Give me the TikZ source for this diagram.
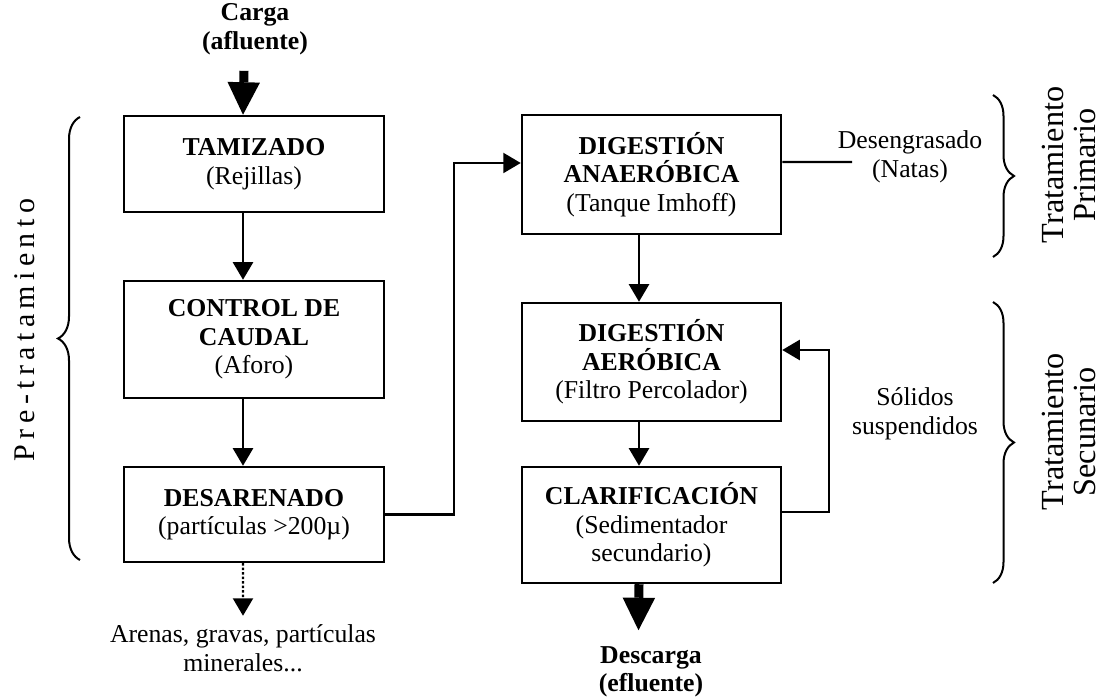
\documentclass[tikz,border=0pt]{standalone}
\usepackage{fontspec}
\setmainfont{Liberation Serif}
\usetikzlibrary{arrows.meta,decorations.pathreplacing}

\begin{document}
\begin{tikzpicture}[x=0.4pt,y=-0.4pt]
  \useasboundingbox (0,0) rectangle (1113,697);

  % Define styles for the boxes, arrows and labels
  \tikzset{
    procbox/.style={draw, line width=1pt, align=center, inner sep=0pt,
      font=\fontsize{10.3}{11.4}\selectfont, minimum width=104pt},
    plaintext/.style={align=center, font=\fontsize{10.3}{11.4}\selectfont},
    sidetext/.style={align=center, rotate=90, font=\fontsize{12.9}{12.8}\selectfont},
    flowline/.style={line width=0.9pt, -{Triangle[length=7pt,width=8pt]}},
    dotflow/.style={flowline, dash pattern=on 1pt off 0.8pt},
    bigarrow/.style={line width=3.6pt, -{Triangle[length=13pt,width=13pt,line width=0pt]}},
    mybrace/.style={decorate, decoration={brace, amplitude=8.4pt}, line width=0.8pt}
  }

  % Pre-tratamiento column
  \node[procbox, minimum height=38.4pt] (tamiz) at (254,164)
    {\textbf{TAMIZADO}\\(Rejillas)};
  \node[procbox, minimum height=46.8pt] (caudal) at (254,339.5)
    {\textbf{CONTROL DE}\\\textbf{CAUDAL}\\(Aforo)};
  \node[procbox, minimum height=38pt] (desar) at (254,514.5)
    {\textbf{DESARENADO}\\(partículas >200µ)};

  % Tratamiento primario y secundario
  \node[procbox, minimum height=47.6pt, minimum width=103.6pt] (anaer) at (651.5,174.5)
    {\textbf{DIGESTIÓN}\\\textbf{ANAERÓBICA}\\(Tanque Imhoff)};
  \node[procbox, minimum height=47.2pt, minimum width=103.6pt] (aerob) at (651.5,362)
    {\textbf{DIGESTIÓN}\\\textbf{AERÓBICA}\\(Filtro Percolador)};
  \node[procbox, minimum height=46.4pt, minimum width=103.6pt] (clarif) at (651.5,525)
    {\textbf{CLARIFICACIÓN}\\(Sedimentador\\secundario)};

  % Entrada, salida y residuos
  \node[plaintext] (carga) at (255,29) {\textbf{Carga}\\\textbf{(afluente)}};
  \node[plaintext] (descarga) at (651,672) {\textbf{Descarga}\\\textbf{(efluente)}};
  \node[plaintext] (residuo) at (243,648) {Arenas, gravas, partículas\\minerales...};
  \node[plaintext] (natas) at (910,157) {Desengrasado\\(Natas)};
  \node[plaintext] (solidos) at (915,414) {Sólidos\\suspendidos};

  % Side labels
  \node[sidetext, font=\fontsize{12}{13}\selectfont\addfontfeatures{LetterSpace=18}] (pretrat) at (25,330)
    {Pre-tratamiento};
  \node[sidetext] (primario) at (1069,165) {Tratamiento\\Primario};
  \node[sidetext] (secundario) at (1069,432) {Tratamiento\\Secunario};

  % Braces
  \draw[mybrace, decoration={amplitude=8.8pt}] (80,560) -- (80,117);
  \draw[mybrace] (993,95) -- (993,257);
  \draw[mybrace] (993,302) -- (993,583);

  % Flow arrows
  \draw[bigarrow] ([xshift=-4.4pt,yshift=-3pt]carga.south) -- ([xshift=-4.4pt]tamiz.north);
  \draw[flowline] ([xshift=-4.4pt]tamiz.south) -- ([xshift=-4.4pt]caudal.north);
  \draw[flowline] ([xshift=-4.4pt]caudal.south) -- ([xshift=-4.4pt]desar.north);
  \draw[dotflow] ([xshift=-4.4pt]desar.south) -- (residuo.north);
  \draw[flowline] (desar.east) -- ++(69,0) |- ([yshift=4.6pt]anaer.west);
  \draw[flowline] ([xshift=-5pt]anaer.south) -- ([xshift=-5pt]aerob.north);
  \draw[flowline] ([xshift=-5pt]aerob.south) -- ([xshift=-5pt]clarif.north);
  \draw[bigarrow] ([xshift=-5pt]clarif.south) -- ([xshift=-5pt,yshift=3pt]descarga.north);

  % Natas and recirculation
  \coordinate (natasfin) at (852,162);
  \draw[line width=0.9pt] ([yshift=5pt]anaer.east) -- (natasfin);
  \draw[flowline] ([yshift=5.2pt]clarif.east) -- ++(47,0) |- ([yshift=4.8pt]aerob.east);

\end{tikzpicture}
\end{document}
